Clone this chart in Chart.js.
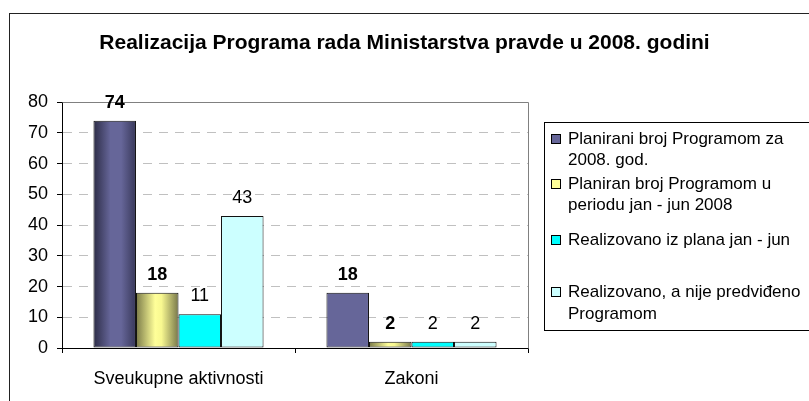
<!DOCTYPE html>
<html>
<head>
<meta charset="utf-8">
<script src="https://cdn.jsdelivr.net/npm/chart.js@4/dist/chart.umd.min.js"></script>
<style>
  html, body { margin: 0; padding: 0; background: #fff; }
  #wrap { width: 809px; height: 401px; }
</style>
</head>
<body>
<div id="wrap"><canvas id="chart" width="809" height="401"></canvas></div>
<script>
// podaci
const categories = ['Sveukupne aktivnosti', 'Zakoni'];
const planGodina = [74, 18];
const planPolugodiste = [18, 2];
const realizovanoPlan = [11, 2];
const realizovanoVanPlana = [43, 2];

const seriesNames = [
  'Planirani broj Programom za 2008. god.',
  'Planiran broj Programom u periodu jan - jun 2008',
  'Realizovano iz plana jan - jun',
  'Realizovano, a nije predviđeno Programom'
];
const legendLines = [
  ['Planirani broj Programom za', '2008. god.'],
  ['Planiran broj Programom u', 'periodu jan - jun 2008'],
  ['Realizovano iz plana jan - jun'],
  ['Realizovano, a nije predviđeno', 'Programom']
];
const yTicks = [0, 10, 20, 30, 40, 50, 60, 70, 80];

const FONT = "'Liberation Sans', Arial, sans-serif";
const CAT_PCT = 0.73;

// Excel-ish horizontalni gradijent preko stupca
function barGradient(stops, flat, onlyFirst) {
  return (ctx) => {
    const chart = ctx.chart;
    const xs = chart.scales.x;
    if (!xs || ctx.dataIndex === undefined || ctx.datasetIndex === undefined) return flat;
    if (onlyFirst && ctx.dataIndex > 0) return flat;
    const catW = (xs.right - xs.left) / categories.length;
    const groupW = catW * CAT_PCT;
    const barW = groupW / 4;
    const center = xs.getPixelForValue(ctx.dataIndex);
    const left = center - groupW / 2 + ctx.datasetIndex * barW;
    if (!isFinite(left) || !isFinite(barW) || barW <= 0) return flat;
    const g = chart.ctx.createLinearGradient(left, 0, left + barW, 0);
    stops.forEach(s => g.addColorStop(s[0], s[1]));
    return g;
  };
}

const outerFrame = {
  id: 'outerFrame',
  beforeDraw(chart) {
    const c = chart.ctx;
    c.save();
    c.fillStyle = '#fff';
    c.fillRect(0, 0, chart.width, chart.height);
    c.strokeStyle = '#222';
    c.lineWidth = 1;
    c.strokeRect(9.5, 13.5, 900, 500);
    c.restore();
  },
  afterDatasetsDraw(chart) {
    // gornji i desni rub plot područja
    const a = chart.chartArea;
    const c = chart.ctx;
    c.save();
    c.strokeStyle = '#808080';
    c.lineWidth = 1;
    c.beginPath();
    c.moveTo(Math.round(a.left) + 0.5, Math.round(a.top) + 0.5);
    c.lineTo(Math.round(a.right) + 0.5, Math.round(a.top) + 0.5);
    c.lineTo(Math.round(a.right) + 0.5, Math.round(a.bottom) + 0.5);
    c.stroke();
    c.restore();
  }
};

const valueLabels = {
  id: 'valueLabels',
  afterDatasetsDraw(chart) {
    const c = chart.ctx;
    c.save();
    c.fillStyle = '#000';
    c.textAlign = 'center';
    c.textBaseline = 'alphabetic';
    chart.data.datasets.forEach((ds, i) => {
      c.font = (i < 2 ? 'bold ' : '') + '18px ' + FONT;
      chart.getDatasetMeta(i).data.forEach((bar, j) => {
        c.fillText(String(ds.data[j]), bar.x, bar.y - 13);
      });
    });
    c.restore();
  }
};

const sideLegend = {
  id: 'sideLegend',
  afterDraw(chart) {
    const c = chart.ctx;
    const bx = 544, by = 122;
    const rows = [[17, 38], [62, 83], [118], [170, 192]];
    c.save();
    c.strokeStyle = '#000';
    c.lineWidth = 1;
    c.strokeRect(bx + 0.5, by + 0.5, 400, 208);
    c.font = '17px ' + FONT;
    c.textBaseline = 'middle';
    c.textAlign = 'left';
    chart.data.datasets.forEach((ds, i) => {
      const y0 = by + rows[i][0];
      c.fillStyle = ds.legendColor;
      c.fillRect(551, y0 - 5, 10, 10);
      c.strokeRect(551.5, y0 - 4.5, 9, 9);
      c.fillStyle = '#000';
      legendLines[i].forEach((t, k) => c.fillText(t, 568, by + rows[i][k]));
    });
    c.restore();
  }
};

new Chart(document.getElementById('chart'), {
  type: 'bar',
  data: {
    labels: categories,
    datasets: [
      {
        label: seriesNames[0],
        data: planGodina,
        legendColor: '#666699',
        backgroundColor: barGradient([[0, '#2c2c46'], [0.4, '#666699'], [0.65, '#666699'], [1, '#38385a']], '#666699', true)
      },
      {
        label: seriesNames[1],
        data: planPolugodiste,
        legendColor: '#ffff99',
        backgroundColor: barGradient([[0, '#7a7a48'], [0.45, '#ffff99'], [0.6, '#f8f890'], [1, '#77774a']], '#ffff99', false)
      },
      {
        label: seriesNames[2],
        data: realizovanoPlan,
        legendColor: '#00ffff',
        backgroundColor: '#00ffff'
      },
      {
        label: seriesNames[3],
        data: realizovanoVanPlana,
        legendColor: '#ccffff',
        backgroundColor: '#ccffff'
      }
    ]
  },
  options: {
    responsive: false,
    animation: false,
    devicePixelRatio: 1,
    categoryPercentage: CAT_PCT,
    barPercentage: 1,
    datasets: {
      bar: { borderColor: '#111', borderWidth: 1, borderSkipped: false }
    },
    layout: { padding: 0 },
    plugins: {
      legend: { display: false },
      tooltip: { enabled: false },
      title: {
        display: true,
        align: 'center',
        text: 'Realizacija Programa rada Ministarstva pravde u 2008. godini',
        color: '#000',
        font: { family: FONT, size: 21, weight: 'bold', lineHeight: 1.2 },
        padding: { top: 31, bottom: 46 }
      }
    },
    scales: {
      x: {
        afterFit: (s) => { s.height = 53; },
        grid: {
          drawOnChartArea: false,
          tickLength: 5,
          tickColor: '#000'
        },
        border: { color: '#000' },
        ticks: {
          color: '#000',
          padding: 15,
          font: { family: FONT, size: 18 }
        }
      },
      y: {
        min: 0,
        max: 80,
        afterFit: (s) => { s.width = 62; },
        afterBuildTicks: (s) => { s.ticks = yTicks.map(v => ({ value: v })); },
        grid: {
          color: (ctx) => (ctx.tick && (ctx.tick.value === 0 || ctx.tick.value === 80)) ? 'rgba(0,0,0,0)' : '#c0c0c0',
          tickLength: 5,
          tickColor: '#000'
        },
        border: { color: '#000', dash: [9, 7] },
        ticks: {
          color: '#000',
          padding: 9,
          font: { family: FONT, size: 18 }
        }
      },
      // prazna os s desne strane, ostavlja mjesto za legendu
      space: {
        type: 'linear',
        position: 'right',
        afterFit: (s) => { s.width = 281; },
        grid: { display: false },
        border: { display: false },
        ticks: { display: false }
      }
    }
  },
  plugins: [outerFrame, valueLabels, sideLegend]
});
</script>
</body>
</html>
